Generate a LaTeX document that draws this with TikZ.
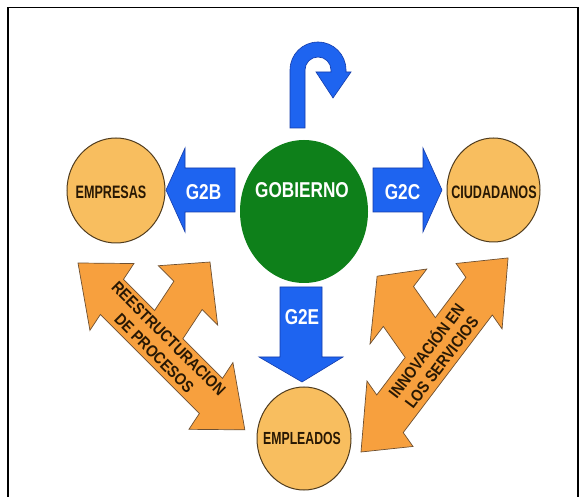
\documentclass[tikz,border=0pt]{standalone}
\usepackage{fontspec}
\setmainfont{Liberation Sans}
\newfontfamily\condb[FakeStretch=0.8]{Liberation Sans}
\newfontfamily\narrowb[FakeStretch=0.7]{Liberation Sans}
\newfontfamily\semib[FakeStretch=0.86]{Liberation Sans}
\usetikzlibrary{shapes.geometric}
\definecolor{gblue}{RGB}{30,100,240}
\definecolor{gblueline}{RGB}{20,60,170}
\definecolor{ggreen}{RGB}{14,128,26}
\definecolor{circfill}{RGB}{248,190,95}
\definecolor{circline}{RGB}{80,60,30}
\definecolor{arrfill}{RGB}{247,160,62}
\definecolor{arrline}{RGB}{110,80,50}
\definecolor{darktext}{RGB}{40,24,4}
\begin{document}
\begin{tikzpicture}[x=1pt,y=-1pt,
  bluearrow/.style={fill=gblue,draw=gblueline,line width=0.6pt,line join=miter},
  orangearrow/.style={fill=arrfill,draw=arrline,line width=0.7pt,line join=miter},
  entity/.style={ellipse,fill=circfill,draw=circline,line width=1pt,inner sep=0pt},
  entitytext/.style={text=darktext,font=\narrowb\bfseries\fontsize{18}{20}\selectfont,inner sep=0pt},
  bluetext/.style={text=white,font=\condb\bfseries\fontsize{21.5}{24}\selectfont,inner sep=0pt},
  diagtext/.style={text=darktext,font=\semib\bfseries\fontsize{16.5}{20.5}\selectfont,align=center,inner sep=0pt}]
\useasboundingbox (0,0) rectangle (587,497);
\fill[white] (0,0) rectangle (587,497);
\draw[line width=1.6pt] (8,497) -- (8,7.5) -- (578,7.5) -- (578,497);

% left orange three-way arrow
\begin{scope}[shift={(78,263)},x={(0.707pt,-0.707pt)},y={(0.55pt,0.835pt)}]
\draw[orangearrow] (0,0) -- (48,40) -- (48,21) -- (92,21) -- (92,56) -- (70,56) -- (112,96) -- (154,56) -- (132,56) -- (132,21) -- (188,21) -- (188,40) -- (236,0) -- (188,-40) -- (188,-21) -- (48,-21) -- (48,-40) -- cycle;
\end{scope}
% right orange three-way arrow
\begin{scope}[shift={(361,452)},x={(0.604pt,0.797pt)},y={(-0.575pt,0.818pt)}]
\draw[orangearrow] (0,0) -- (48,40) -- (48,23) -- (95,23) -- (95,61) -- (73,61) -- (120,98) -- (167,61) -- (145,61) -- (145,23) -- (195.5,23) -- (195.5,40) -- (243.5,0) -- (195.5,-40) -- (195.5,-23) -- (48,-23) -- (48,-40) -- cycle;
\end{scope}
\node[diagtext,rotate=-45] (reest) at (161.5,346) {REESTRUCTURACION\\DE PROCESOS};
\node[diagtext,rotate=52.8,font=\semib\bfseries\fontsize{16.5}{19}\selectfont] (innov) at (433,356) {INNOVACIÓN EN\\LOS SERVICIOS};

% blue arrows
\draw[bluearrow] (235,168) -- (185,168) -- (185,148) -- (166,190) -- (185,232) -- (185,212) -- (235,212) -- cycle;
\draw[bluearrow] (373,168) -- (423,168) -- (423,148) -- (442,190) -- (423,232) -- (423,212) -- (373,212) -- cycle;
\draw[bluearrow] (280,287) -- (322,287) -- (322,357) -- (343,357) -- (302,382) -- (259,357) -- (280,357) -- cycle;
\draw[bluearrow] (290,128) -- (290,70) .. controls (290,54.5) and (302.5,42) .. (318,42) .. controls (333.5,42) and (346,54.5) .. (346,70) -- (346,72) -- (351,72) -- (333,98) -- (316,72) -- (331,72) -- (331,70) .. controls (331,62.8) and (325.2,57) .. (318,57) .. controls (310.8,57) and (305,62.8) .. (305,70) -- (305,128) -- cycle;

% entities
\node[entity,minimum width=98pt,minimum height=105pt] (emp) at (116,190.5) {};
\node[entity,minimum width=93pt,minimum height=104pt] (ciu) at (493.5,190) {};
\node[entity,minimum width=94pt,minimum height=103pt] (empl) at (304,438.5) {};
\node[ellipse,fill=ggreen,minimum width=128pt,minimum height=143pt,inner sep=0pt] (gob) at (304,211.5) {};

% labels
\node[entitytext] (empt) at (111,192) {EMPRESAS};
\node[entitytext] (ciut) at (494,192) {CIUDADANOS};
\node[entitytext,font=\narrowb\bfseries\fontsize{17.5}{20}\selectfont] (emplt) at (302,438) {EMPLEADOS};
\node[bluetext] (gobt) at (302,190) {GOBIERNO};
\node[bluetext] (g2b) at (203.5,192) {G2B};
\node[bluetext] (g2c) at (402.5,192) {G2C};
\node[bluetext] (g2e) at (302,317) {G2E};
\end{tikzpicture}
\end{document}
